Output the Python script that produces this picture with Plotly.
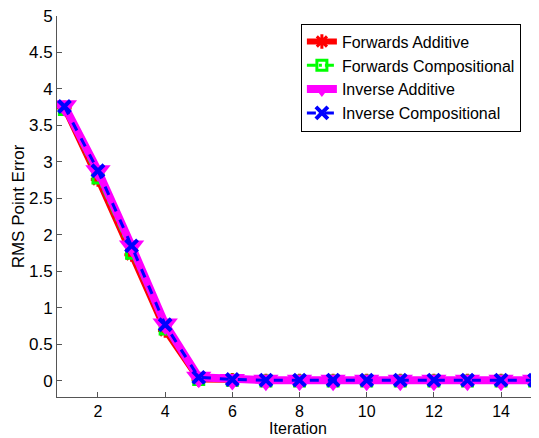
import plotly.graph_objects as go

iterations = list(range(1, 16))
forwards_additive = [3.74, 2.76, 1.73, 0.69, 0.02, 0.01, 0.0, 0.0, 0.0, 0.0, 0.0, 0.0, 0.0, 0.0, 0.0]
forwards_compositional = [3.72, 2.78, 1.75, 0.71, 0.02, 0.01, 0.0, 0.0, 0.0, 0.0, 0.0, 0.0, 0.0, 0.0, 0.0]
inverse_additive = [3.77, 2.88, 1.85, 0.78, 0.05, 0.02, 0.01, 0.01, 0.01, 0.01, 0.01, 0.01, 0.01, 0.01, 0.01]
inverse_compositional = [3.76, 2.88, 1.85, 0.77, 0.05, 0.02, 0.01, 0.01, 0.01, 0.01, 0.01, 0.01, 0.01, 0.01, 0.01]
x_ticks = [2, 4, 6, 8, 10, 12, 14]
y_ticks = [0, 0.5, 1, 1.5, 2, 2.5, 3, 3.5, 4, 4.5, 5]

fig = go.Figure()
fig.add_trace(go.Scatter(
    x=iterations, y=forwards_additive, name="Forwards Additive", mode="lines+markers",
    line=dict(color="#FF0000", width=6),
    marker=dict(symbol="asterisk-open", size=12, color="#FF0000", line=dict(color="#FF0000", width=3)),
))
fig.add_trace(go.Scatter(
    x=iterations, y=forwards_compositional, name="Forwards Compositional", mode="lines+markers",
    line=dict(color="#00FF00", width=3, dash="dashdot"),
    marker=dict(symbol="square-open", size=10, color="#00FF00", line=dict(color="#00FF00", width=3)),
))
fig.add_trace(go.Scatter(
    x=iterations, y=inverse_additive, name="Inverse Additive", mode="lines+markers",
    line=dict(color="#FF00FF", width=8),
    marker=dict(symbol="triangle-down", size=22, color="#FF00FF"),
))
fig.add_trace(go.Scatter(
    x=iterations, y=inverse_compositional, name="Inverse Compositional", mode="lines+markers",
    line=dict(color="#0000FF", width=3, dash="dash"),
    marker=dict(symbol="x-thin-open", size=12, color="#0000FF", line=dict(color="#0000FF", width=4)),
))

# page body has an 8px default margin, so the figure is offset by (8, 8)
fig.update_layout(
    width=531, height=430,
    margin=dict(l=49, r=0, t=8, b=41, autoexpand=False),
    paper_bgcolor="white", plot_bgcolor="white",
    font=dict(family="Liberation Sans, Arial, sans-serif", size=17, color="black"),
    showlegend=True,
    legend=dict(
        x=0.506, y=0.98, xanchor="left", yanchor="top",
        bgcolor="white", bordercolor="black", borderwidth=1,
        font=dict(size=16), tracegroupgap=0, itemwidth=30,
    ),
)
fig.update_xaxes(
    range=[0.78, 15.13], tickvals=x_ticks, ticktext=[str(v) for v in x_ticks],
    ticks="inside", ticklen=5, tickcolor="#555", showline=True, linecolor="#555", linewidth=1,
    showgrid=False, zeroline=False, mirror=False, automargin=False,
    ticklabeloverflow="allow",
    title=dict(text="Iteration", standoff=0, font=dict(size=16)),
    tickfont=dict(size=16),
)
fig.update_yaxes(
    range=[-0.22, 5.0], tickvals=y_ticks, ticktext=[f"{v:g}" for v in y_ticks],
    ticks="inside", ticklen=5, tickcolor="#555", showline=True, linecolor="#555", linewidth=1,
    showgrid=False, zeroline=False, mirror=False, automargin=False,
    ticklabeloverflow="allow",
    title=dict(text="RMS Point Error", standoff=0, font=dict(size=17)),
    tickfont=dict(size=17),
)

fig.write_html("out.html")
